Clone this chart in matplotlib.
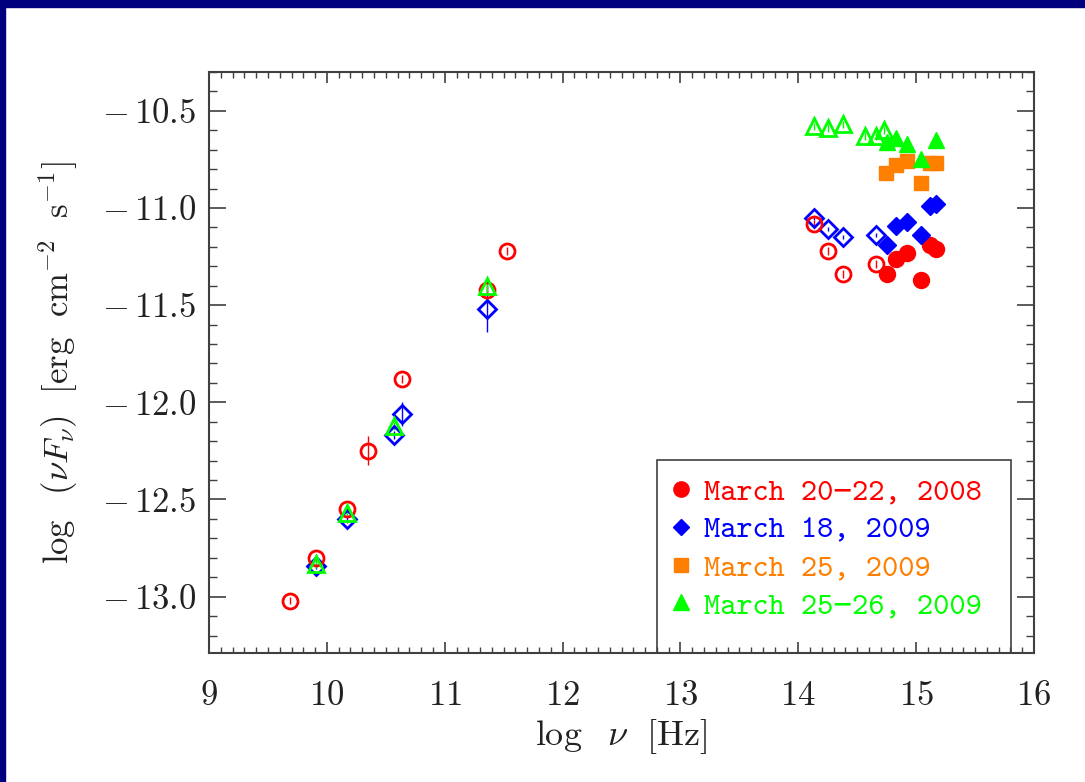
import matplotlib
matplotlib.use("Agg")
import matplotlib.pyplot as plt
from matplotlib.font_manager import FontProperties
from matplotlib.lines import Line2D
from matplotlib.patches import Rectangle
from matplotlib.ticker import FuncFormatter, MultipleLocator

plt.rcParams["font.family"] = "serif"
plt.rcParams["font.serif"] = ["cmr10"]
plt.rcParams["mathtext.fontset"] = "cm"
plt.rcParams["axes.formatter.use_mathtext"] = True

# March 20-22, 2008 (red): open = radio/IR, filled = optical/UV
red_open_x = [9.69, 9.91, 10.17, 10.35, 10.64, 11.36, 11.53, 14.13, 14.25, 14.38, 14.66]
red_open_y = [-13.02, -12.80, -12.55, -12.25, -11.88, -11.42, -11.22, -11.08, -11.22, -11.34, -11.29]
red_open_err = [0.02, 0.02, 0.02, 0.075, 0.02, 0.03, 0.02, 0.02, 0.02, 0.02, 0.02]
red_x = [14.75, 14.83, 14.92, 15.04, 15.12, 15.17]
red_y = [-11.34, -11.26, -11.23, -11.37, -11.19, -11.21]

# March 18, 2009 (blue)
blue_open_x = [9.91, 10.17, 10.57, 10.64, 11.36, 14.13, 14.25, 14.38, 14.66]
blue_open_y = [-12.84, -12.60, -12.17, -12.06, -11.52, -11.05, -11.11, -11.15, -11.14]
blue_open_err = [0.02, 0.02, 0.02, 0.06, 0.12, 0.01, 0.01, 0.01, 0.01]
blue_x = [14.75, 14.83, 14.92, 15.04, 15.12, 15.17]
blue_y = [-11.19, -11.09, -11.07, -11.14, -10.99, -10.98]

# March 25, 2009 (orange)
orange_x = [14.74, 14.83, 14.92, 15.04, 15.12, 15.17]
orange_y = [-10.82, -10.78, -10.76, -10.87, -10.77, -10.77]

# March 25-26, 2009 (green)
green_open_x = [9.91, 10.17, 10.57, 11.36, 14.13, 14.25, 14.38, 14.57, 14.66, 14.73]
green_open_y = [-12.83, -12.57, -12.12, -11.40, -10.58, -10.59, -10.57, -10.63, -10.63, -10.60]
green_open_err = [0.02, 0.02, 0.02, 0.03, 0.02, 0.02, 0.02, 0.02, 0.02, 0.02]
green_x = [14.75, 14.83, 14.92, 15.04, 15.17]
green_y = [-10.66, -10.64, -10.67, -10.75, -10.65]

labels = ["March 20\u221222, 2008", "March 18, 2009", "March 25, 2009", "March 25\u221226, 2009"]
RED, BLUE, ORANGE, GREEN = "#ff0000", "#0000ff", "#ff7f00", "#00ff00"
FRAME = "#404040"

# typewriter face for the legend, minus sign falls back to DejaVu
tt_font = FontProperties(family=["cmtt10", "DejaVu Sans Mono"], size=22.2)

fig = plt.figure(figsize=(10.85, 7.82), dpi=100)
ax = fig.add_axes([209 / 1085, 129 / 782, 825 / 1085, 581 / 782])

# slide border along left and top edges
fig.patches.append(Rectangle((0, 0), 5 / 1085, 1, transform=fig.transFigure, color="#00007f", zorder=5))
fig.patches.append(Rectangle((0, 1 - 7 / 782), 1, 7 / 782, transform=fig.transFigure, color="#00007f", zorder=5))


def open_pts(x, y, err, color, marker, ms):
    ax.errorbar(x, y, yerr=err, fmt=marker, ms=ms, mfc="none", mec=color, mew=2,
                ecolor=color, elinewidth=1, capsize=0, zorder=3)


def filled_pts(x, y, color, marker, ms):
    ax.plot(x, y, ls="none", marker=marker, ms=ms, color=color, mec=color, zorder=3)


open_pts(blue_open_x, blue_open_y, blue_open_err, BLUE, "D", 9.2)
open_pts(red_open_x, red_open_y, red_open_err, RED, "o", 10.8)
open_pts(green_open_x, green_open_y, green_open_err, GREEN, "^", 12)
filled_pts(red_x, red_y, RED, "o", 11.5)
filled_pts(blue_x, blue_y, BLUE, "D", 9.2)
filled_pts(orange_x, orange_y, ORANGE, "s", 10)
filled_pts(green_x, green_y, GREEN, "^", 12)

ax.set_xlim(9, 16)
ax.set_ylim(-13.29, -10.3)

ax.xaxis.set_major_locator(MultipleLocator(1))
ax.xaxis.set_minor_locator(MultipleLocator(0.1))
ax.yaxis.set_major_locator(MultipleLocator(0.5))
ax.yaxis.set_minor_locator(MultipleLocator(0.1))
ax.xaxis.set_major_formatter(FuncFormatter(lambda v, p: r"$%d$" % round(v)))
ax.yaxis.set_major_formatter(FuncFormatter(lambda v, p: r"$-\,%.1f$" % abs(v)))

ax.tick_params(which="both", direction="in", top=True, right=True, color=FRAME,
               labelsize=25, labelcolor="#222222")
ax.tick_params(axis="x", which="major", length=8, width=1.2, pad=20)
ax.tick_params(axis="x", which="minor", length=4, width=1)
ax.tick_params(axis="y", which="major", length=12, width=1.2, pad=9)
ax.tick_params(axis="y", which="minor", length=5.5, width=1)
for s in ax.spines.values():
    s.set_color(FRAME)
    s.set_linewidth(1.5)

ax.set_xlabel(r"$\log\ \ \nu\ \ [\mathrm{Hz}]$", fontsize=26, color="#222222", labelpad=3)
ax.set_ylabel(r"$\log\ \ (\nu F_\nu)\ \ [\mathrm{erg\ \ cm^{-2}\ \ s^{-1}}]$",
              fontsize=25, color="#222222", labelpad=16)

# legend box sits on the bottom axis
ax.add_patch(Rectangle((0.543, 0), 0.429, 0.332, transform=ax.transAxes, fill=False,
                       ec=FRAME, lw=1.2, zorder=4))
handles = [
    Line2D([], [], ls="none", marker="o", ms=11, color=RED),
    Line2D([], [], ls="none", marker="D", ms=8.5, color=BLUE),
    Line2D([], [], ls="none", marker="s", ms=10, color=ORANGE),
    Line2D([], [], ls="none", marker="^", ms=11, color=GREEN),
]
ax.legend(handles, labels, loc="upper left", bbox_to_anchor=(0.527, 0.338), frameon=False,
          prop=tt_font, labelcolor="markerfacecolor", handlelength=1.0,
          handletextpad=0.25, labelspacing=0.3, borderpad=0.2)

fig.savefig("out.png", dpi=100)
